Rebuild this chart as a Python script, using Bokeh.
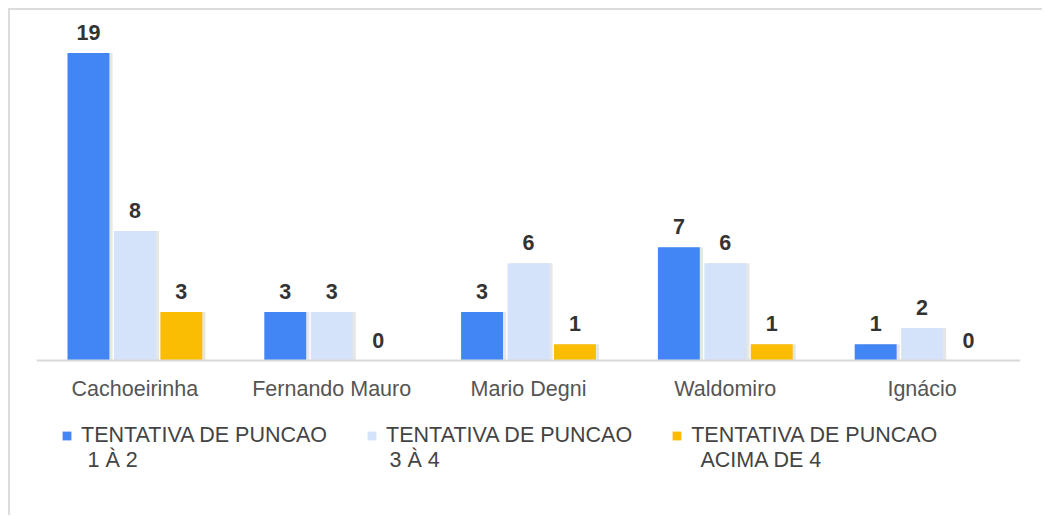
from bokeh.plotting import figure
from bokeh.models import ColumnDataSource, FactorRange, Legend, LegendItem, LabelSet, Span
from bokeh.core.properties import value
from bokeh.transform import dodge
from bokeh.embed import file_html
from bokeh.resources import INLINE

categories = ["Cachoeirinha", "Fernando Mauro", "Mario Degni", "Waldomiro", "Ignácio"]
series_line1 = ["TENTATIVA DE PUNCAO", "TENTATIVA DE PUNCAO", "TENTATIVA DE PUNCAO"]
series_line2 = ["1 À 2", "3 À 4", "ACIMA DE 4"]
punc_1_2 = [19, 3, 3, 7, 1]
punc_3_4 = [8, 3, 6, 6, 2]
punc_acima_4 = [3, 0, 1, 1, 0]

colors = ["#4285F4", "#D4E3F9", "#FBBC04"]
FONT = "Liberation Sans"
FS = "21.5px"

src = ColumnDataSource(dict(
    cat=categories, zero=[0] * len(categories),
    s1=punc_1_2, s2=punc_3_4, s3=punc_acima_4,
    l1=[str(v) for v in punc_1_2], l2=[str(v) for v in punc_3_4], l3=[str(v) for v in punc_acima_4],
))

# frame spans from 20px to the bottom of the page; value 0 sits at 360px
PX_PER_UNIT = 340 / 21.0
p = figure(x_range=FactorRange(*categories), y_range=(-157 / PX_PER_UNIT, 21),
           width=1034, height=507, output_backend="svg", toolbar_location=None,
           min_border_left=26, min_border_right=24, min_border_top=10, min_border_bottom=0,
           margin=(8, 0, 0, 8))
p.styles = {"border-top": "2px solid #dcdcdc", "border-left": "2px solid #dcdcdc"}
p.outline_line_color = None
p.background_fill_color = "white"
p.border_fill_color = "white"
p.xaxis.visible = False
p.yaxis.visible = False
p.xgrid.grid_line_color = None
p.ygrid.grid_line_color = None

offsets = [-0.236, 0.0, 0.236]
cols = ["s1", "s2", "s3"]
lcols = ["l1", "l2", "l3"]
W = 0.213

# shadows
for off, c in zip(offsets, cols):
    p.vbar(x=dodge("cat", off + 0.016, range=p.x_range), top=c, width=W, source=src,
           fill_color="#9a9a9a", fill_alpha=0.25, line_color=None)

renderers = []
for off, c, col in zip(offsets, cols, colors):
    r = p.vbar(x=dodge("cat", off, range=p.x_range), top=c, width=W, source=src,
               fill_color=col, line_color=None)
    renderers.append(r)

# baseline
p.add_layout(Span(location=0, dimension="width", line_color="#d9d9d9", line_width=2))

# value labels
for off, lc, c in zip(offsets, lcols, cols):
    p.add_layout(LabelSet(x=dodge("cat", off, range=p.x_range), y=c, text=lc, source=src,
                          text_align="center", text_baseline="alphabetic", y_offset=13,
                          text_font=value(FONT), text_font_size=FS, text_font_style="bold",
                          text_color="#333333"))

# category labels
p.add_layout(LabelSet(x="cat", y="zero", text="cat", source=src,
                      text_align="center", text_baseline="middle", y_offset=-28,
                      text_font=value(FONT), text_font_size=FS, text_color="#555555"))

legend = Legend(items=[LegendItem(label=n, renderers=[r]) for n, r in zip(series_line1, renderers)],
                orientation="horizontal", location=(25, 69),
                padding=0, margin=0, spacing=39, label_standoff=9,
                glyph_width=11, glyph_height=11,
                label_text_font=FONT, label_text_font_size=FS, label_text_color="#444444",
                label_text_line_height=1.3,
                border_line_color=None, background_fill_alpha=0)
p.add_layout(legend, "center")

# second line of each legend label (placed under the first line)
FRAME_LEFT, CAT_PX = 36, 984 / 5
line2_px = [87, 389, 700]
line2_src = ColumnDataSource(dict(
    x=[(px - FRAME_LEFT) / CAT_PX for px in line2_px],
    y=[-(459 - 360) / PX_PER_UNIT] * 3,
    t=series_line2,
))
p.add_layout(LabelSet(x="x", y="y", text="t", source=line2_src,
                      text_align="left", text_baseline="middle",
                      text_font=value(FONT), text_font_size=FS, text_color="#444444"))

open("out.html", "w").write(file_html(p, INLINE))
